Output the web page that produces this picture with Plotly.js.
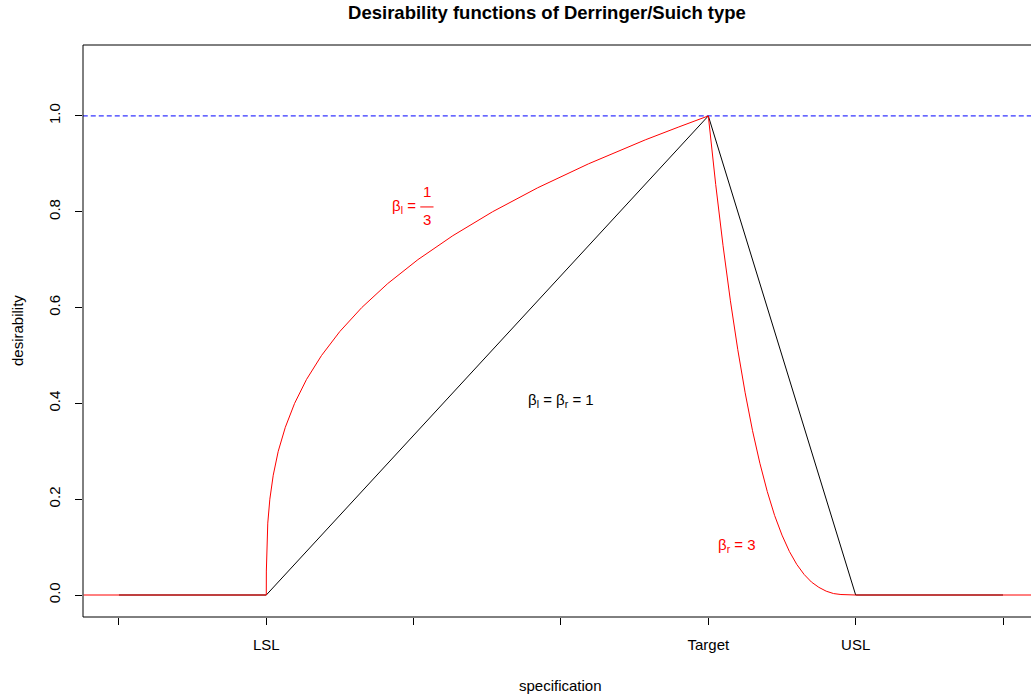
<!DOCTYPE html>
<html>
<head>
<meta charset="utf-8">
<script src="https://cdn.plot.ly/plotly-3.0.1.min.js"></script>
<style>html,body{margin:0;padding:0;background:#fff;overflow:hidden;}</style>
</head>
<body>
<div id="chart" style="width:1031px;height:696px;"></div>
<script>
// x positions on the specification axis (LSL = 1, Target = 4, USL = 5)
const tickValues = [0, 1, 2, 3, 4, 5, 6];
const tickLabels = ['', 'LSL', '', '', 'Target', 'USL', ''];

// beta_l = beta_r = 1 (black)
const linX = [0, 1, 4, 5, 6];
const linY = [0, 0, 1, 0, 0];

// beta_l = 1/3, beta_r = 3 (red)
const curveX = [-0.24, 1, 1.000375, 1.003, 1.010, 1.024, 1.047, 1.081, 1.129, 1.192, 1.273, 1.375,
  1.499, 1.648, 1.824, 2.029, 2.266, 2.536, 2.842, 3.187, 3.572, 3.8, 4,
  4.05, 4.1, 4.15, 4.2, 4.25, 4.3, 4.35, 4.4, 4.45, 4.5, 4.55, 4.6, 4.65, 4.7, 4.75, 4.8, 4.85, 4.9, 5, 6.24];
const curveY = [0, 0, 0.05, 0.1, 0.15, 0.2, 0.25, 0.3, 0.35, 0.4, 0.45, 0.5,
  0.55, 0.6, 0.65, 0.7, 0.75, 0.8, 0.85, 0.9, 0.95, 0.977, 1,
  0.857, 0.729, 0.614, 0.512, 0.422, 0.343, 0.275, 0.216, 0.166, 0.125, 0.091, 0.064, 0.043, 0.027, 0.016, 0.008, 0.003, 0.001, 0, 0];

const yTicks = [0, 0.2, 0.4, 0.6, 0.8, 1.0];
const yTickText = ['0.0', '0.2', '0.4', '0.6', '0.8', '1.0'];

const FONT = 'Liberation Sans, Arial, Helvetica, sans-serif';
const FS = 15;

const traces = [
  {x: [-0.3, 6.3], y: [1, 1], mode: 'lines', line: {color: '#0000ff', width: 1, dash: '5px,3px'}, hoverinfo: 'skip'},
  {x: linX, y: linY, mode: 'lines', line: {color: '#000000', width: 1}},
  {x: curveX, y: curveY, mode: 'lines', line: {color: '#ff0000', width: 1}}
];

const layout = {
  width: 1031, height: 696,
  margin: {l: 83, r: 0, t: 45, b: 79, pad: 0},
  paper_bgcolor: '#ffffff', plot_bgcolor: '#ffffff',
  showlegend: false,
  font: {family: FONT, size: FS, color: '#000'},
  title: {
    text: '<b>Desirability functions of Derringer/Suich type</b>',
    font: {family: FONT, size: 18.5, color: '#000'},
    xref: 'container', yref: 'container',
    x: 547/1031, xanchor: 'center', y: 1 - 13/696, yanchor: 'middle'
  },
  xaxis: {
    range: [-0.244, 6.19], showgrid: false, zeroline: false, showline: false,
    tickmode: 'array', tickvals: tickValues, ticktext: tickLabels,
    ticks: 'outside', ticklen: 7, tickwidth: 1, tickcolor: '#000',
    ticklabelstandoff: 7,
    tickfont: {family: FONT, size: FS, color: '#000'}
  },
  yaxis: {
    range: [-0.0459, 1.148], showgrid: false, zeroline: false, showline: false,
    tickmode: 'array', tickvals: yTicks, ticktext: yTickText,
    ticks: 'outside', ticklen: 7, tickwidth: 1, tickcolor: '#000',
    tickangle: -90, ticklabelstandoff: 9,
    tickfont: {family: FONT, size: FS, color: '#000'}
  },
  shapes: [
    {type: 'line', xref: 'paper', yref: 'paper', x0: 0, x1: 0, y0: 0, y1: 1, line: {color: '#000', width: 1}},
    {type: 'line', xref: 'paper', yref: 'paper', x0: 0, x1: 1, y0: 1, y1: 1, line: {color: '#000', width: 1}},
    {type: 'line', xref: 'paper', yref: 'paper', x0: 0, x1: 1, y0: 0, y1: 0, line: {color: '#000', width: 1}},
    {type: 'line', xref: 'x', yref: 'y', x0: 2.045, x1: 2.135, y0: 0.81, y1: 0.81, line: {color: '#ff0000', width: 1}}
  ],
  annotations: [
    {xref: 'paper', yref: 'paper', x: (560-83)/948, y: (617-685)/572, text: 'specification', showarrow: false,
     xanchor: 'center', yanchor: 'middle', font: {family: FONT, size: FS, color: '#000'}},
    {xref: 'paper', yref: 'paper', x: (17-83)/948, y: (617-331)/572, text: 'desirability', showarrow: false,
     textangle: -90, xanchor: 'center', yanchor: 'middle', font: {family: FONT, size: FS, color: '#000'}},
    {xref: 'x', yref: 'y', x: 2.03, y: 0.81, text: 'β<sub>l</sub> =', showarrow: false,
     xanchor: 'right', yanchor: 'middle', font: {family: FONT, size: FS, color: '#ff0000'}},
    {xref: 'x', yref: 'y', x: 2.09, y: 0.842, text: '1', showarrow: false,
     xanchor: 'center', yanchor: 'middle', font: {family: FONT, size: FS, color: '#ff0000'}},
    {xref: 'x', yref: 'y', x: 2.09, y: 0.783, text: '3', showarrow: false,
     xanchor: 'center', yanchor: 'middle', font: {family: FONT, size: FS, color: '#ff0000'}},
    {xref: 'x', yref: 'y', x: 3.0, y: 0.405, text: 'β<sub>l</sub> = β<sub>r</sub> = 1', showarrow: false,
     xanchor: 'center', yanchor: 'middle', font: {family: FONT, size: FS, color: '#000'}},
    {xref: 'x', yref: 'y', x: 4.195, y: 0.104, text: 'β<sub>r</sub> = 3', showarrow: false,
     xanchor: 'center', yanchor: 'middle', font: {family: FONT, size: FS, color: '#ff0000'}}
  ]
};

Plotly.newPlot('chart', traces, layout, {displayModeBar: false, staticPlot: true});
</script>
</body>
</html>
